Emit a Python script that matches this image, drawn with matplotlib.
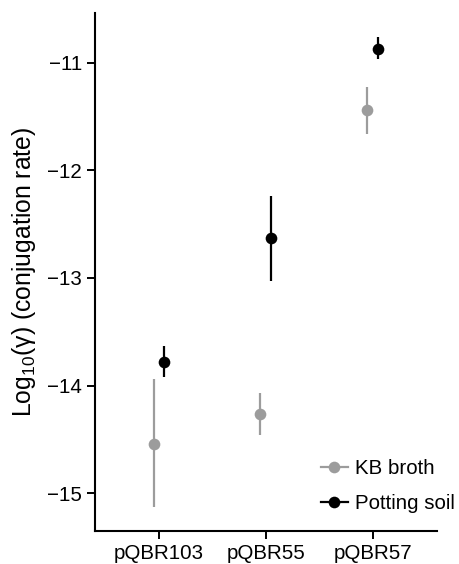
import matplotlib.pyplot as plt
import numpy as np

plt.rcParams['font.family'] = ['Liberation Sans', 'DejaVu Sans']
plt.rcParams['mathtext.fontset'] = 'custom'
plt.rcParams['mathtext.rm'] = 'Liberation Sans'

plasmids = ["pQBR103", "pQBR55", "pQBR57"]

kb_mean = [-14.54, -14.265, -11.44]
kb_low = [-15.13, -14.46, -11.66]
kb_high = [-13.94, -14.07, -11.23]

soil_mean = [-13.78, -12.63, -10.87]
soil_low = [-13.92, -13.03, -10.97]
soil_high = [-13.63, -12.235, -10.76]

grey = '#9c9c9c'
dodge = 0.05
x = np.arange(1, len(plasmids) + 1)

fig = plt.figure(figsize=(4.59, 5.64), dpi=100)
ax = fig.add_axes([0.2063, 0.0585, 0.7457, 0.9185])

kb_err = [np.array(kb_mean) - np.array(kb_low), np.array(kb_high) - np.array(kb_mean)]
soil_err = [np.array(soil_mean) - np.array(soil_low), np.array(soil_high) - np.array(soil_mean)]

ax.errorbar(x - dodge, kb_mean, yerr=kb_err, fmt='o', color=grey, ms=8.4,
            elinewidth=1.6, capsize=0, mew=0)
ax.errorbar(x + dodge, soil_mean, yerr=soil_err, fmt='o', color='black', ms=8.4,
            elinewidth=1.6, capsize=0, mew=0)

# legend handles: line through point, like ggplot
h1, = ax.plot([], [], '-o', color=grey, ms=8.4, lw=1.6, mew=0, label='KB broth')
h2, = ax.plot([], [], '-o', color='black', ms=8.4, lw=1.6, mew=0, label='Potting soil')
ax.legend(handles=[h1, h2], loc='lower right', frameon=False, fontsize=14.8,
          handlelength=1.35, handletextpad=0.3, labelspacing=0.8,
          bbox_to_anchor=(1.075, 0.018), borderaxespad=0)

ax.set_xlim(0.4, 3.6)
ax.set_ylim(-15.35, -10.54)
ax.set_xticks(x)
ax.set_xticklabels(plasmids)
ax.set_yticks([-15, -14, -13, -12, -11])
ax.set_yticklabels(['\u221215', '\u221214', '\u221213', '\u221212', '\u221211'])
ax.tick_params(labelsize=14.8, length=6, width=1.4, color='black', pad=3)

for s in ['top', 'right']:
    ax.spines[s].set_visible(False)
for s in ['left', 'bottom']:
    ax.spines[s].set_linewidth(1.5)

ax.set_ylabel(r'Log$_{\mathregular{10}}$(γ) (conjugation rate)', fontsize=17.8, labelpad=6.5)

plt.savefig('out.png', dpi=100)
